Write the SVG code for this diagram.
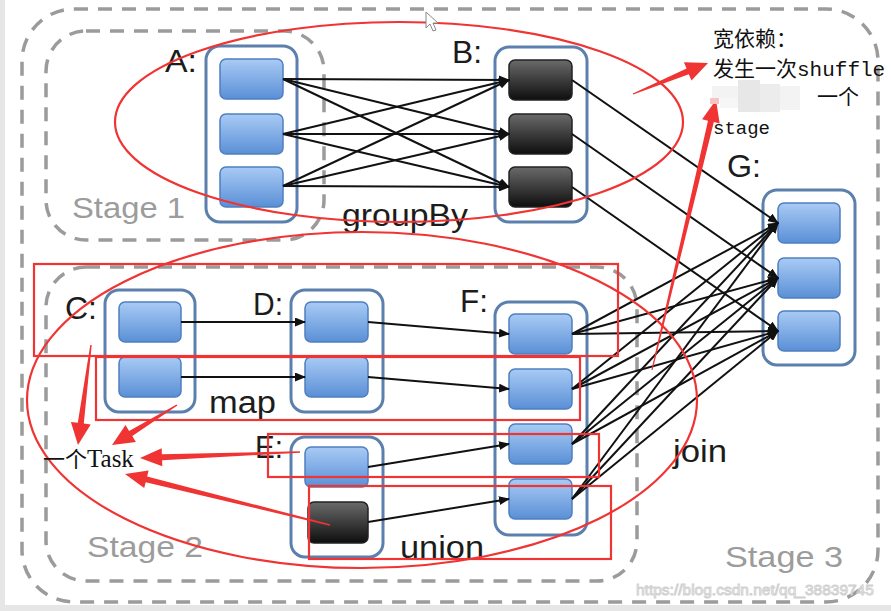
<svg xmlns="http://www.w3.org/2000/svg" width="891" height="611" viewBox="0 0 891 611">
<defs>
<linearGradient id="gBlue" x1="0" y1="0" x2="0" y2="1">
<stop offset="0" stop-color="#a9cbf5"/><stop offset="1" stop-color="#5a8fd6"/>
</linearGradient>
<linearGradient id="gDark" x1="0" y1="0" x2="0" y2="1">
<stop offset="0" stop-color="#6a6a6a"/><stop offset="1" stop-color="#0e0e0e"/>
</linearGradient>
<marker id="ah" markerUnits="userSpaceOnUse" markerWidth="11" markerHeight="9" refX="10" refY="4.5" orient="auto">
<path d="M0,0 L11,4.5 L0,9 z" fill="#111"/>
</marker>
<style>
.stage{fill:none;stroke:#9b9b9b;stroke-width:3.5;stroke-dasharray:14 10}
.box{fill:#fff;stroke:#5b80ad;stroke-width:3}
.b{fill:url(#gBlue);stroke:#4f7fbf;stroke-width:1.5}
.d{fill:url(#gDark);stroke:#222;stroke-width:1.5}
.lbl{font-family:"Liberation Sans",Arial,sans-serif;font-size:31px;fill:#1c1c1c}
.stg{font-family:"Liberation Sans",Arial,sans-serif;font-size:30px;fill:#9c9c9c}
.c line{stroke:#111;stroke-width:2;marker-end:url(#ah)}
.red{fill:none;stroke:#f03333;stroke-width:2.2}
.ra{fill:#f03333}
.cn{font-family:"Noto Sans CJK SC","Liberation Serif",serif;fill:#111}
.mono{font-family:"Liberation Mono","Noto Sans CJK SC",monospace;fill:#111}
</style>
</defs>
<rect x="0" y="0" width="891" height="611" fill="#fff"/>
<rect x="0" y="0" width="5" height="611" fill="#e6e6e6"/>
<rect x="0" y="605" width="891" height="6" fill="#e6e6e6"/>

<g id="stage3"><rect class="stage" x="22" y="9" width="856" height="593" rx="52"/><text class="stg" x="725" y="567" textLength="118" lengthAdjust="spacingAndGlyphs">Stage 3</text></g>
<g id="stage1"><rect class="stage" x="46" y="31" width="278" height="209" rx="40"/><text class="stg" x="72" y="218" textLength="113" lengthAdjust="spacingAndGlyphs">Stage 1</text></g>
<g id="stage2"><rect class="stage" x="46" y="267" width="591" height="314" rx="40"/><text class="stg" x="87" y="557" textLength="116" lengthAdjust="spacingAndGlyphs">Stage 2</text></g>

<g id="nodeA"><rect class="box" x="206" y="46" width="91" height="176" rx="14"/><rect class="b" x="220" y="59" width="63" height="40" rx="6"/><rect class="b" x="220" y="114" width="63" height="40" rx="6"/><rect class="b" x="220" y="167" width="63" height="40" rx="6"/><text class="lbl" x="165" y="72" textLength="32" lengthAdjust="spacingAndGlyphs">A:</text></g>
<g id="nodeB"><rect class="box" x="495" y="47" width="92" height="175" rx="14"/><rect class="d" x="509" y="60" width="63" height="40" rx="6"/><rect class="d" x="509" y="114" width="63" height="40" rx="6"/><rect class="d" x="509" y="167" width="63" height="40" rx="6"/><text class="lbl" x="452" y="63" textLength="30" lengthAdjust="spacingAndGlyphs">B:</text></g>
<g id="nodeG"><rect class="box" x="763" y="190" width="92" height="175" rx="14"/><rect class="b" x="778" y="203" width="62" height="40" rx="6"/><rect class="b" x="778" y="258" width="62" height="40" rx="6"/><rect class="b" x="778" y="311" width="62" height="40" rx="6"/><text class="lbl" x="727" y="177" textLength="34" lengthAdjust="spacingAndGlyphs">G:</text></g>
<g id="nodeC"><rect class="box" x="105" y="290" width="90" height="122" rx="14"/><rect class="b" x="119" y="302" width="62" height="40" rx="6"/><rect class="b" x="119" y="357" width="62" height="40" rx="6"/><text class="lbl" x="65" y="319" textLength="32" lengthAdjust="spacingAndGlyphs">C:</text></g>
<g id="nodeD"><rect class="box" x="291" y="290" width="92" height="122" rx="14"/><rect class="b" x="305" y="302" width="63" height="40" rx="6"/><rect class="b" x="305" y="357" width="63" height="40" rx="6"/><text class="lbl" x="253" y="315" textLength="30" lengthAdjust="spacingAndGlyphs">D:</text></g>
<g id="nodeE"><rect class="box" x="291" y="437" width="92" height="120" rx="14"/><rect class="b" x="305" y="447" width="63" height="40" rx="6"/><rect class="d" x="308" y="502" width="60" height="41" rx="6"/><text class="lbl" x="255" y="458" textLength="28" lengthAdjust="spacingAndGlyphs">E:</text></g>
<g id="nodeF"><rect class="box" x="495" y="302" width="92" height="233" rx="14"/><rect class="b" x="509" y="314" width="63" height="40" rx="6"/><rect class="b" x="509" y="369" width="63" height="40" rx="6"/><rect class="b" x="509" y="424" width="63" height="40" rx="6"/><rect class="b" x="509" y="479" width="63" height="40" rx="6"/><text class="lbl" x="460" y="312" textLength="28" lengthAdjust="spacingAndGlyphs">F:</text></g>

<g id="opLabels">
<text class="lbl" x="342" y="226" textLength="126" lengthAdjust="spacingAndGlyphs">groupBy</text>
<text class="lbl" x="209" y="413" textLength="67" lengthAdjust="spacingAndGlyphs">map</text>
<text class="lbl" x="400" y="558" textLength="84" lengthAdjust="spacingAndGlyphs">union</text>
<text class="lbl" x="673" y="462" textLength="54" lengthAdjust="spacingAndGlyphs">join</text>
</g>

<g id="connectors" class="c">
<line x1="283" y1="79" x2="509" y2="80"/><line x1="283" y1="79" x2="509" y2="134"/><line x1="283" y1="79" x2="509" y2="187"/>
<line x1="283" y1="134" x2="509" y2="80"/><line x1="283" y1="134" x2="509" y2="134"/><line x1="283" y1="134" x2="509" y2="187"/>
<line x1="283" y1="186" x2="509" y2="80"/><line x1="283" y1="186" x2="509" y2="134"/><line x1="283" y1="186" x2="509" y2="187"/>
<line x1="572" y1="80" x2="778" y2="223"/><line x1="572" y1="134" x2="778" y2="278"/><line x1="572" y1="187" x2="778" y2="331"/>
<line x1="181" y1="322" x2="305" y2="322"/><line x1="181" y1="377" x2="305" y2="377"/>
<line x1="368" y1="322" x2="509" y2="334"/><line x1="368" y1="377" x2="509" y2="389"/>
<line x1="368" y1="467" x2="509" y2="444"/><line x1="368" y1="522" x2="509" y2="499"/>
<line x1="572" y1="334" x2="778" y2="223"/><line x1="572" y1="334" x2="778" y2="278"/><line x1="572" y1="334" x2="778" y2="331"/>
<line x1="572" y1="389" x2="778" y2="223"/><line x1="572" y1="389" x2="778" y2="278"/><line x1="572" y1="389" x2="778" y2="331"/>
<line x1="572" y1="444" x2="778" y2="223"/><line x1="572" y1="444" x2="778" y2="278"/><line x1="572" y1="444" x2="778" y2="331"/>
<line x1="572" y1="499" x2="778" y2="223"/><line x1="572" y1="499" x2="778" y2="278"/><line x1="572" y1="499" x2="778" y2="331"/>
</g>

<g id="annotations">
<ellipse class="red" cx="399" cy="122" rx="284" ry="100"/>
<ellipse class="red" cx="362" cy="400" rx="335" ry="168"/>
<rect class="red" x="34" y="264" width="584" height="92"/>
<rect class="red" x="96" y="357" width="484" height="63"/>
<rect class="red" x="268" y="434" width="331" height="43"/>
<rect class="red" x="309" y="486" width="302" height="73"/>
<polygon class="ra" points="632.8,93.5 686.6,68.6 683.9,62.2 708,63 691.5,80.6 688.8,74.2 633.2,94.5"/>
<polygon class="ra" points="651.4,369.9 708.0,120.7 702.1,119.3 716,100 719.7,123.5 713.8,122.1 652.6,370.1"/>
<polygon class="ra" points="90.3,344.9 77.8,422.8 70.9,421.9 78,445 90.7,424.5 83.8,423.6 91.7,345.1"/>
<polygon class="ra" points="176.6,404.4 129.1,430.9 125.5,425.0 112,445 135.9,442.0 132.3,436.1 177.4,405.6"/>
<polygon class="ra" points="300,451.3 161.9,454.2 161.7,448.2 140,458 162.3,466.2 162.1,460.2 300,452.7"/>
<polygon class="ra" points="330.2,524.3 147.1,476.4 148.6,470.6 125,474 144.2,488.0 145.7,482.2 329.8,525.7"/>
<g id="blur">
<rect x="712" y="86" width="26" height="12" fill="#f3f3f3"/>
<rect x="738" y="80" width="22" height="32" fill="#e7e7e7"/>
<rect x="760" y="84" width="20" height="28" fill="#ececec"/>
<rect x="780" y="86" width="20" height="24" fill="#f3f3f3"/>
<rect x="720" y="98" width="18" height="10" fill="#f6f6f6"/>
<rect x="710" y="98" width="9" height="6" fill="#f6c4c4"/>
</g>
<text class="cn" x="713" y="46" font-size="21">宽依赖：</text>
<text x="713" y="76" font-size="21"><tspan class="cn">发生一次</tspan><tspan class="mono">shuffle</tspan></text>
<text class="cn" x="817" y="104" font-size="21">一个</text>
<text class="mono" x="713" y="134" font-size="19">stage</text>
<text x="43" y="467" font-size="25" font-family="Liberation Serif,serif" fill="#111"><tspan class="cn" font-size="22">一个</tspan>Task</text>
</g>

<g id="watermark">
<text x="636" y="595" font-family="Liberation Sans,Arial,sans-serif" font-size="15.5" fill="#fff" stroke="#cccccc" stroke-width="1" opacity="0.9">https://blog.csdn.net/qq_38839745</text>
</g>
<polygon points="426,12 426,28 430,24 433,31 436,30 433,23 438,23" fill="#fff" stroke="#888" stroke-width="1"/>
</svg>
